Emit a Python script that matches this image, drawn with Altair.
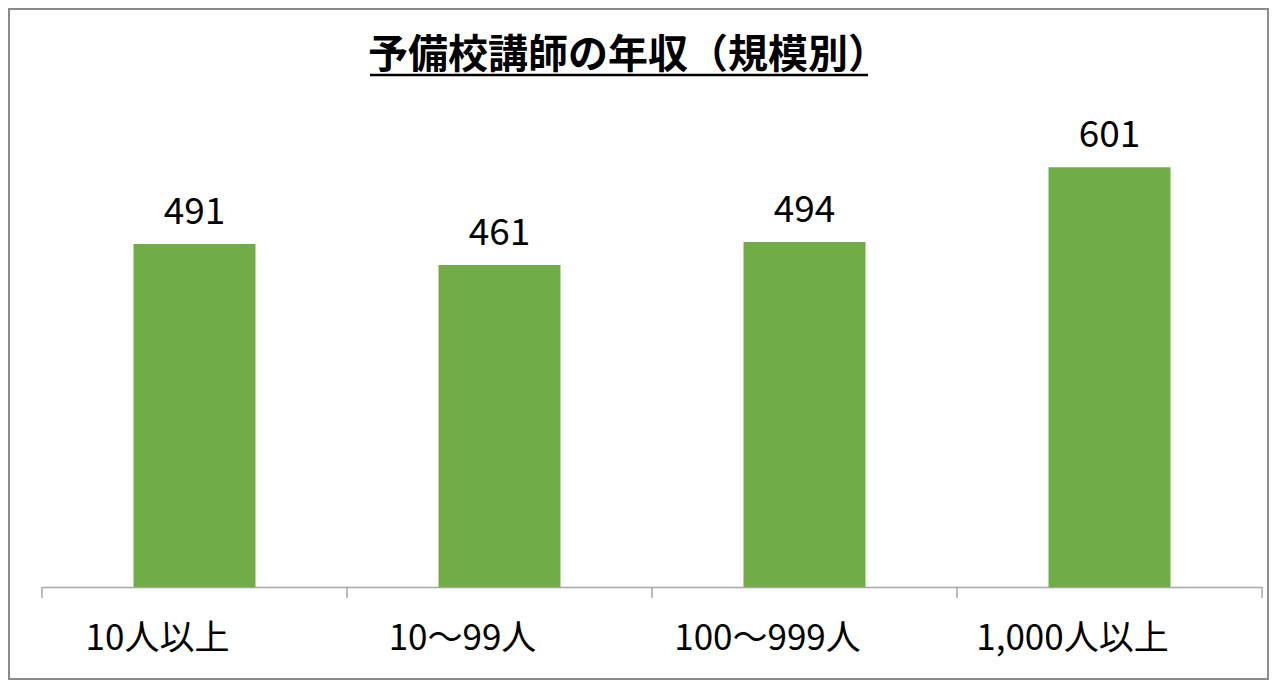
import altair as alt
import pandas as pd

categories = ["10人以上", "10〜99人", "100〜999人", "1,000人以上"]
values = [491, 461, 494, 601]
boundaries = [0, 1, 2, 3, 4]
title_text = "予備校講師の年収（規模別）"

df = pd.DataFrame({"cat": categories, "val": values})

FONT = "Noto Sans CJK JP"
W, H = 1220, 489

xscale = alt.Scale(paddingInner=0.6, paddingOuter=0.3)
x = alt.X("cat:N", sort=categories, title=None, scale=xscale,
          axis=alt.Axis(labelAngle=0, labelFont=FONT, labelFontSize=35, labelColor="#000000",
                        labelPadding=34, labelOffset=-37, labelLimit=0, ticks=False,
                        domainColor="#a6a6a6", domainWidth=1.5, grid=False))
y = alt.Y("val:Q", scale=alt.Scale(domain=[0, 700]), axis=None)

base = alt.Chart(df)
bars = base.mark_bar(color="#70AD47").encode(x=x, y=y)
labels = base.mark_text(font=FONT, fontSize=37, dy=-20, baseline="alphabetic", color="#000000").encode(
    x=x, y=y, text=alt.Text("val:Q"))
bars_layer = alt.layer(bars, labels)

ticks = alt.Chart(pd.DataFrame({"b": boundaries})).mark_rule(color="#a6a6a6", strokeWidth=1.5).encode(
    x=alt.X("b:Q", scale=alt.Scale(domain=[0, 4], nice=False, zero=False), axis=None),
    y=alt.value(H), y2=alt.value(H + 11))

title = alt.Chart(pd.DataFrame({"t": [title_text]})).mark_text(
    font=FONT, fontSize=40, fontWeight="bold", baseline="middle", align="center", color="#000000"
).encode(x=alt.value(586), y=alt.value(-42), text="t:N")
underline = alt.Chart(pd.DataFrame({"t": [0]})).mark_rule(color="#000000", strokeWidth=2.5).encode(
    x=alt.value(328), x2=alt.value(826), y=alt.value(-23))
border = alt.Chart(pd.DataFrame({"t": [0]})).mark_rect(fill=None, stroke="#8c8c8c", strokeWidth=2).encode(
    x=alt.value(-33), x2=alt.value(1226), y=alt.value(-89), y2=alt.value(581))

chart = alt.layer(border, bars_layer, ticks, title, underline).resolve_scale(x="independent").properties(
    width=W, height=H,
    background="#ffffff",
    autosize=alt.AutoSizeParams(type="none"),
    padding={"left": 34, "top": 90, "right": 7, "bottom": 94},
).configure_view(strokeWidth=0, stroke="transparent")

chart.save("out.html", embed_options={"renderer": "svg", "actions": False})
